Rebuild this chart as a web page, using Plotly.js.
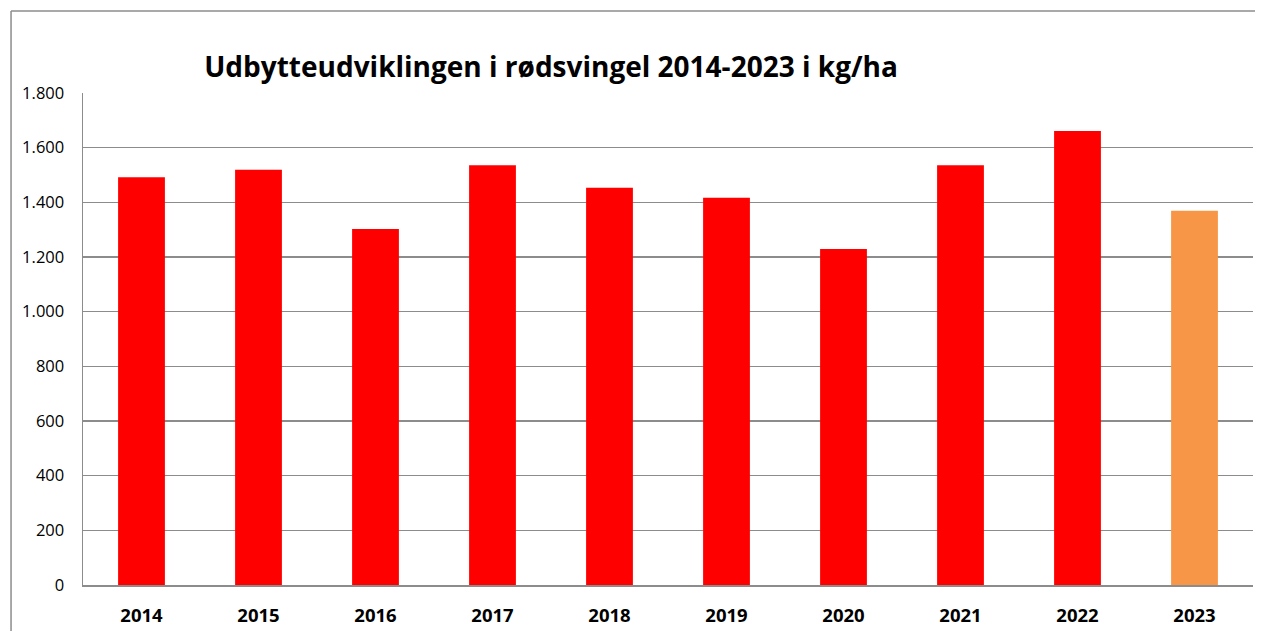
<!DOCTYPE html>
<html>
<head>
<meta charset="utf-8">
<script src="https://cdn.plot.ly/plotly-3.0.1.min.js"></script>
<style>html,body{margin:0;padding:0;background:#fff;}#chart{width:1263px;height:631px;}</style>
</head>
<body>
<div id="chart"></div>
<script>
const years = ["2014","2015","2016","2017","2018","2019","2020","2021","2022","2023"];
const yields = [1492, 1519, 1302, 1536, 1453, 1417, 1229, 1536, 1661, 1369];
const barColors = ["#FF0000","#FF0000","#FF0000","#FF0000","#FF0000","#FF0000","#FF0000","#FF0000","#FF0000","#F79646"];
const tickVals = [0, 200, 400, 600, 800, 1000, 1200, 1400, 1600, 1800];
const tickLabels = ["0","200","400","600","800","1.000","1.200","1.400","1.600","1.800"];
const titleText = "Udbytteudviklingen i rødsvingel 2014-2023 i kg/ha";

const trace = {
  type: "bar",
  x: years,
  y: yields,
  marker: {color: barColors, line: {width: 0}},
  hoverinfo: "x+y"
};

const layout = {
  width: 1263, height: 631,
  margin: {l: 83, r: 10, t: 93, b: 46},
  paper_bgcolor: "#ffffff",
  plot_bgcolor: "#ffffff",
  bargap: 0.6,
  showlegend: false,
  font: {family: "Open Sans, sans-serif", color: "#000"},
  title: {
    text: "<b>" + titleText + "</b>",
    font: {family: "Open Sans, sans-serif", size: 28, color: "#000"},
    xref: "paper", x: 0.4, xanchor: "center",
    yref: "container", y: 0.893, yanchor: "middle"
  },
  xaxis: {
    type: "category",
    showgrid: false,
    showline: true, linecolor: "#8c8c8c", linewidth: 1.5,
    ticks: "", tickfont: {family: "Open Sans, sans-serif", size: 18.5, color: "#000", weight: "bold"},
    ticklabelstandoff: 13
  },
  yaxis: {
    range: [0, 1800],
    tickvals: tickVals, ticktext: tickLabels,
    showgrid: true, gridcolor: "#8c8c8c", gridwidth: 1.5,
    showline: true, linecolor: "#8c8c8c", linewidth: 1.5,
    zeroline: false,
    ticks: "", tickfont: {family: "Open Sans, sans-serif", size: 16.5, color: "#000"},
    ticklabelstandoff: 14
  },
  shapes: [
    {type: "line", xref: "paper", yref: "paper", x0: -0.0615, x1: -0.0615, y0: -0.1, y1: 1.1667, line: {color: "#8c8c8c", width: 1.5}},
    {type: "line", xref: "paper", yref: "paper", x0: -0.0615, x1: 1.0017, y0: 1.1667, y1: 1.1667, line: {color: "#8c8c8c", width: 1.5}}
  ]
};

Plotly.newPlot("chart", [trace], layout, {displayModeBar: false, staticPlot: true});
</script>
</body>
</html>
